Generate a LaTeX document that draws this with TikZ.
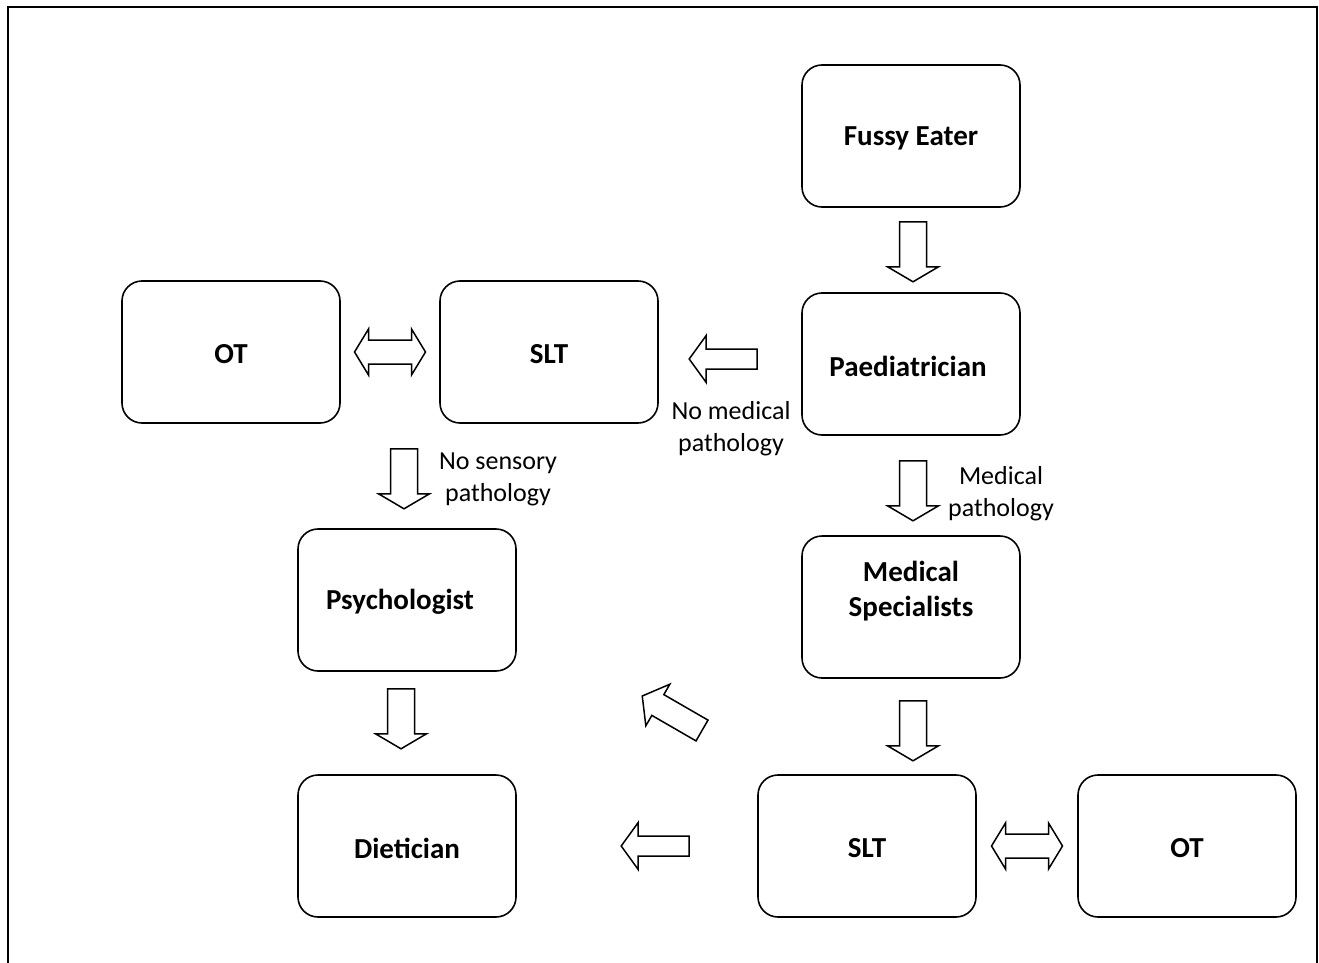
\documentclass[tikz,border=0pt]{standalone}
\usepackage{fontspec}
\setmainfont{Carlito}
\usetikzlibrary{calc}
\tikzset{
  box/.style={draw, line width=1.6pt, rounded corners=20pt, minimum width=218pt, minimum height=142pt, inner sep=0pt},
  boxtext/.style={align=center, font=\fontsize{29}{35}\selectfont\bfseries, inner sep=0pt},
  lbl/.style={align=center, font=\fontsize{26}{32}\selectfont, inner sep=0pt},
  arrowline/.style={draw, line width=1.5pt, line join=miter, fill=white},
  frame/.style={line width=2pt}
}
% tail point, angle, length, shaft width, head width, head length
\newcommand{\blockarrow}[6]{%
  \draw[arrowline, shift={#1}, rotate=#2]
    (0,{#4/2}) -- ({#3-#6},{#4/2}) -- ({#3-#6},{#5/2}) -- (#3,0) --
    ({#3-#6},{-#5/2}) -- ({#3-#6},{-#4/2}) -- (0,{-#4/2}) -- cycle;}
% centre point, angle, length, shaft width, head width, head length
\newcommand{\dblarrow}[6]{%
  \draw[arrowline, shift={#1}, rotate=#2]
    ({-#3/2+#6},{#4/2}) -- ({#3/2-#6},{#4/2}) -- ({#3/2-#6},{#5/2}) -- ({#3/2},0) --
    ({#3/2-#6},{-#5/2}) -- ({#3/2-#6},{-#4/2}) -- ({-#3/2+#6},{-#4/2}) --
    ({-#3/2+#6},{-#5/2}) -- ({-#3/2},0) -- ({-#3/2+#6},{#5/2}) -- cycle;}
\begin{document}
\begin{tikzpicture}[x=1pt,y=-1pt]
\useasboundingbox (0,0) rectangle (1319,963);
\draw[frame] (8,964) -- (8,7) -- (1317,7) -- (1317,964);

\node[box] (fussy) at (911,136) {};
\node[box] (paed) at (911,364) {};
\node[box] (med) at (911,607) {};
\node[box] (slt2) at (867,846) {};
\node[box] (ot2) at (1187,846) {};
\node[box] (ot1) at (231,352) {};
\node[box] (slt1) at (549,352) {};
\node[box] (psych) at (407,600) {};
\node[box] (diet) at (407,846) {};

\node[boxtext] (tfussy) at ($(fussy.center)+(0,2)$) {Fussy Eater};
\node[boxtext] (tpaed) at ($(paed.center)+(-3,2)$) {Paediatrician};
\node[boxtext] (tmed) at ($(med.center)+(0,-16)$) {Medical\\Specialists};
\node[boxtext] (tslt2) at ($(slt2.center)+(0,2)$) {SLT};
\node[boxtext] (tot2) at ($(ot2.center)+(0,2)$) {OT};
\node[boxtext] (tot1) at ($(ot1.center)+(0,2)$) {OT};
\node[boxtext] (tslt1) at ($(slt1.center)+(0,2)$) {SLT};
\node[boxtext] (tpsych) at ($(psych.center)+(-7,2)$) {Psychologist};
\node[boxtext] (tdiet) at ($(diet.center)+(0,2)$) {Dietician};

% down arrows
\blockarrow{($(fussy.south)+(2,14)$)}{-90}{60}{27}{51}{15}
\blockarrow{($(paed.south)+(2,25)$)}{-90}{60}{27}{51}{15}
\blockarrow{($(med.south)+(2,22)$)}{-90}{60}{27}{51}{15}
\blockarrow{($(slt1.south)+(-145,25)$)}{-90}{60}{27}{51}{15}
\blockarrow{($(psych.south)+(-6,17)$)}{-90}{60}{27}{51}{15}

% left arrows
\blockarrow{($(paed.west)+(-44,-5)$)}{180}{68}{20}{47}{17}
\blockarrow{($(slt2.west)+(-68,0)$)}{180}{68}{20}{47}{17}

% diagonal arrow
\blockarrow{(702,730.5)}{150}{69}{24}{48}{18}

% double arrows
\dblarrow{($(ot1.east)!0.5!(slt1.west)$)}{0}{71}{24}{46}{14}
\dblarrow{($(slt2.east)!0.5!(ot2.west)$)}{0}{71}{24}{46}{14}

% labels
\node[lbl] (l1) at (731,429) {No medical\\pathology};
\node[lbl] (l2) at (498,479) {No sensory\\pathology};
\node[lbl] (l3) at (1001,494) {Medical\\pathology};
\end{tikzpicture}
\end{document}
